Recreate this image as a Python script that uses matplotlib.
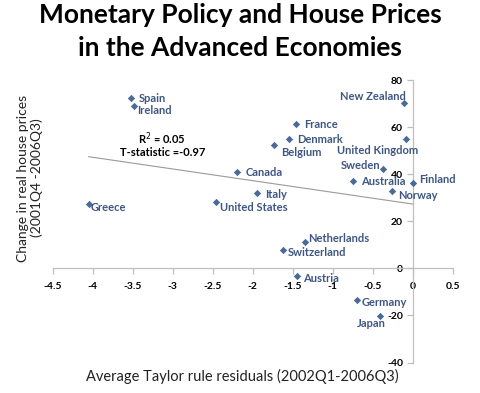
import numpy as np
import matplotlib
matplotlib.use("Agg")
import matplotlib.pyplot as plt

plt.rcParams['font.family'] = ['Lato', 'DejaVu Sans']

countries = ["Spain", "Ireland", "Greece", "Canada", "Italy", "United States",
             "Belgium", "France", "Denmark", "New Zealand", "United Kingdom",
             "Sweden", "Australia", "Finland", "Norway", "Netherlands",
             "Switzerland", "Austria", "Germany", "Japan"]
taylor_resid = [-3.52, -3.49, -4.05, -2.19, -1.95, -2.46,
                -1.73, -1.46, -1.54, -0.11, -0.08,
                -0.37, -0.75, 0.00, -0.26, -1.35,
                -1.62, -1.45, -0.70, -0.41]
house_change = [72.3, 69.0, 27.2, 40.9, 32.0, 28.1,
                52.5, 61.3, 55.0, 70.2, 55.2,
                42.3, 37.1, 36.4, 32.8, 11.1,
                7.9, -3.3, -13.5, -20.3]

x_ticks = [-4.5, -4, -3.5, -3, -2.5, -2, -1.5, -1, -0.5, 0, 0.5]
y_ticks = [-40, -20, 0, 20, 40, 60, 80]

# label placement: (dx, dy) in pixels, horizontal alignment
label_pos = {
    "Spain": (8, 0, 'left'), "Ireland": (4, -4, 'left'), "Greece": (2, -3, 'left'),
    "Canada": (8, 0, 'left'), "Italy": (8, -1, 'left'), "United States": (4, -5, 'left'),
    "Belgium": (7, -8, 'left'), "France": (8, 0, 'left'), "Denmark": (8, 0, 'left'),
    "New Zealand": (2, 7, 'right'), "United Kingdom": (-29, -12, 'center'),
    "Sweden": (-3, 3, 'right'), "Australia": (8, 0, 'left'), "Finland": (6, 3, 'left'),
    "Norway": (6, -4, 'left'), "Netherlands": (3, 4, 'left'), "Switzerland": (5, -3, 'left'),
    "Austria": (6, -2, 'left'), "Germany": (5, -2, 'left'), "Japan": (-9, -7, 'center'),
}

pt_color = '#4A6A98'
lab_color = '#3E5782'
axis_color = '#BFBFBF'

fig = plt.figure(figsize=(4.8, 3.93), dpi=100)
ax = fig.add_axes([0.1098, 0.0776, 0.8333, 0.7181])

ax.scatter(taylor_resid, house_change, marker='D', s=14, color=pt_color, zorder=3, linewidths=0)

# linear trend
slope, icpt = np.polyfit(taylor_resid, house_change, 1)
xs = np.array([min(taylor_resid), max(taylor_resid)])
ax.plot(xs, slope * xs + icpt, color='#9A9A9A', lw=0.8, zorder=2)

for name, xv, yv in zip(countries, taylor_resid, house_change):
    dx, dy, ha = label_pos[name]
    ax.annotate(name, (xv, yv), xytext=(dx, dy), textcoords='offset pixels',
                ha=ha, va='center', fontsize=8, fontweight='bold', color=lab_color)

ax.text(-3.13, 55.3, "R$^2$ = 0.05", ha='center', va='center', fontsize=8, fontweight='bold')
ax.text(-3.13, 49.4, "T-statistic =-0.97", ha='center', va='center', fontsize=8, fontweight='bold')

ax.set_xlim(-4.5, 0.5)
ax.set_ylim(-40, 80)
ax.set_xticks(x_ticks)
ax.set_yticks(y_ticks)
ax.set_xticklabels([f"{t:g}" for t in x_ticks])
ax.set_yticklabels([f"{t:g}" for t in y_ticks])

for s in ['top', 'right']:
    ax.spines[s].set_visible(False)
ax.spines['left'].set_position(('data', 0))
ax.spines['bottom'].set_position(('data', 0))
for s in ['left', 'bottom']:
    ax.spines[s].set_color(axis_color)
    ax.spines[s].set_linewidth(0.9)
ax.tick_params(axis='both', direction='out', length=4, width=0.9, color=axis_color,
               labelsize=7.5, pad=3)
ax.tick_params(axis='x', pad=6)
for lab in ax.get_xticklabels() + ax.get_yticklabels():
    lab.set_fontweight('bold')

fig.text(0.5, 0.962, "Monetary Policy and House Prices", ha='center', va='center',
         fontsize=19, fontweight='bold')
fig.text(0.5, 0.878, "in the Advanced Economies", ha='center', va='center',
         fontsize=19, fontweight='bold')
fig.text(0.504, 0.041, "Average Taylor rule residuals (2002Q1-2006Q3)", ha='center', va='center',
         fontsize=10.5, color='#222222')
fig.text(0.062, 0.547, "Change in real house prices\n(2001Q4 -2006Q3)", ha='center', va='center',
         rotation=90, fontsize=10, color='#222222', linespacing=1.15)

fig.savefig("out.png", dpi=100)
